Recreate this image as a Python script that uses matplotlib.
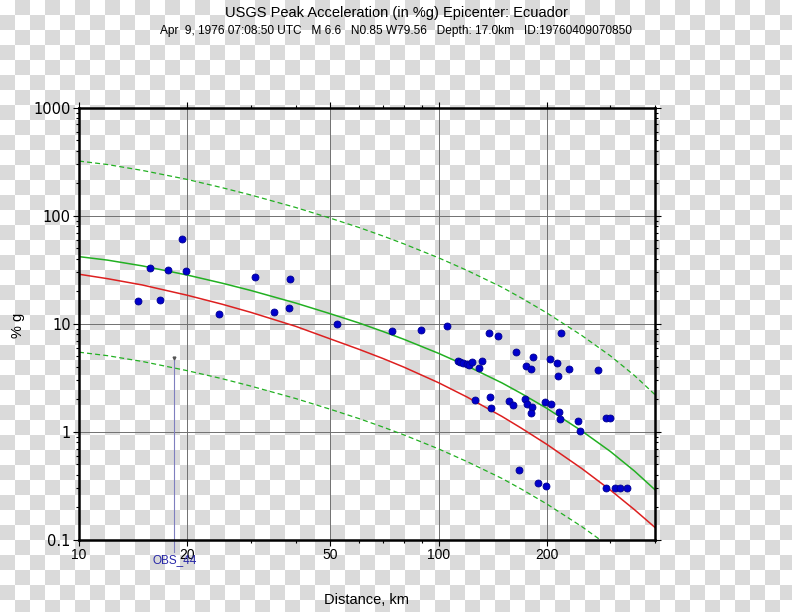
import numpy as np
import matplotlib
matplotlib.use("Agg")
import matplotlib.pyplot as plt
from matplotlib.ticker import FixedLocator, FixedFormatter, NullFormatter

plt.rcParams['font.family'] = ['Liberation Sans', 'DejaVu Sans']

# -----------------------------
# Data
# -----------------------------
title = 'USGS Peak Acceleration (in %g) Epicenter: Ecuador'
subtitle = 'Apr  9, 1976 07:08:50 UTC   M 6.6   N0.85 W79.56   Depth: 17.0km   ID:19760409070850'

# observed stations (distance km, peak acceleration %g)
obs_dist = [14.6, 15.8, 16.8, 17.7, 19.4, 19.8, 24.5, 30.9, 34.8, 38.3, 38.7, 52.3,
            74.0, 89.3, 105.2, 138.2, 146.4, 163.7, 218.3,
            112.9, 114.8, 117.1, 119.6, 121.4, 124.0, 129.2, 131.7,
            174.9, 180.6, 182.9, 204.3, 212.8, 214.2, 230.7, 277.8,
            126.2, 139.1, 139.8, 157.1, 161.2, 173.4, 175.6, 181.4, 180.6,
            197.1, 205.6, 215.6, 217.0, 243.5, 246.6,
            166.9, 189.2, 198.4, 291.3, 299.4, 291.3, 309.0, 319.2, 333.2]
obs_pga = [16.3, 33.1, 16.7, 31.3, 61.0, 31.0, 12.4, 27.3, 12.8, 14.1, 26.0, 9.9,
           8.65, 8.73, 9.6, 8.2, 7.7, 5.5, 8.2,
           4.54, 4.44, 4.32, 4.23, 4.14, 4.41, 3.88, 4.51,
           4.05, 3.83, 4.91, 4.74, 4.38, 3.32, 3.83, 3.75,
           1.99, 2.09, 1.68, 1.95, 1.78, 2.03, 1.83, 1.69, 1.50,
           1.88, 1.83, 1.53, 1.31, 1.27, 1.02,
           0.445, 0.34, 0.318, 1.34, 1.34, 0.301, 0.301, 0.301, 0.301]

# regression curves
curve_dist = [10, 12, 15, 20, 25, 30, 40, 50, 60, 70, 80, 100,
              120, 150, 170, 200, 250, 300, 350, 400]
median_pga = [41.9, 38.9, 34.4, 28.3, 23.8, 20.4, 15.6, 12.4, 10.2, 8.5, 7.2, 5.33,
              4.07, 2.84, 2.26, 1.65, 1.02, 0.66, 0.435, 0.29]
upper_pga = [321, 298, 263, 217, 182, 156, 119.5, 95, 78, 65, 55, 40.8,
             31.2, 21.8, 17.3, 12.6, 7.8, 5.06, 3.33, 2.2]
lower_pga = [5.47, 5.08, 4.49, 3.69, 3.11, 2.66, 2.04, 1.62, 1.33, 1.11, 0.94, 0.696,
             0.531, 0.371, 0.295, 0.215, 0.133, 0.086, 0.057, 0.038]
red_pga = [28.8, 26.2, 22.9, 18.4, 15.2, 12.8, 9.5, 7.25, 5.82, 4.78, 3.98, 2.85,
           2.10, 1.39, 1.08, 0.766, 0.458, 0.290, 0.191, 0.130]

# flagged station
flag_name = 'OBS_44'
flag_dist = 18.4
flag_pga = 4.8

x_major = [10, 20, 50, 100, 200]
x_minor = [30, 40, 60, 70, 80, 90, 300, 400]
y_major = [0.1, 1, 10, 100, 1000]

# -----------------------------
# Figure
# -----------------------------
fig = plt.figure(figsize=(7.92, 6.12), dpi=100)

# checkerboard background
h, w = 612, 792
yy, xx = np.indices((h, w))
board = np.where(((yy // 15) + (xx // 15)) % 2 == 1, 0.855, 1.0)
fig.figimage(board, xo=0, yo=0, origin='upper', cmap='gray', vmin=0, vmax=1, zorder=-10)

ax = fig.add_axes([0.0997, 0.1176, 0.7277, 0.7064])
ax.patch.set_alpha(0)
ax.set_xscale('log')
ax.set_yscale('log')
ax.set_xlim(10, 400)
ax.set_ylim(0.1, 1000)

ax.grid(True, which='major', color='#707070', lw=0.7)
ax.set_axisbelow(True)

ax.plot(curve_dist, upper_pga, color='#22b022', lw=0.9, dashes=(4, 2.5))
ax.plot(curve_dist, lower_pga, color='#22b022', lw=0.9, dashes=(4, 2.5))
ax.plot(curve_dist, median_pga, color='#22b022', lw=1.1)
ax.plot(curve_dist, red_pga, color='#dd2020', lw=1.1)

ax.plot(obs_dist, obs_pga, 'o', color='#0000cc', mec='#000090', mew=0.6, ms=5, zorder=5)

# flagged station line + label
ax.plot([flag_dist, flag_dist], [0.077, flag_pga], color='#7f7fbf', lw=0.8, clip_on=False)
ax.plot([flag_dist], [flag_pga], marker='v', color='#555555', ms=2, clip_on=False)
ax.text(flag_dist, 0.0655, flag_name, ha='center', va='center', color='#2828a8',
        fontsize=8.5, clip_on=False)

ax.xaxis.set_major_locator(FixedLocator(x_major))
ax.xaxis.set_major_formatter(FixedFormatter([str(v) for v in x_major]))
ax.xaxis.set_minor_locator(FixedLocator(x_minor))
ax.xaxis.set_minor_formatter(NullFormatter())
ax.yaxis.set_major_locator(FixedLocator(y_major))
ax.yaxis.set_major_formatter(FixedFormatter(['0.1', '1', '10', '100', '1000']))
ax.yaxis.set_minor_locator(matplotlib.ticker.LogLocator(subs=np.arange(2, 10)))
ax.yaxis.set_minor_formatter(NullFormatter())

ax.tick_params(which='both', direction='out', top=True, right=True, width=0.8, colors='black')
ax.tick_params(which='major', length=4)
ax.tick_params(which='minor', length=2.5)
ax.tick_params(axis='x', labelsize=10, pad=2)
for lab in ax.get_yticklabels():
    lab.set_family('DejaVu Sans')
    lab.set_fontsize(10.5)
ax.tick_params(axis='y', pad=2)
for sp in ax.spines.values():
    sp.set_linewidth(1.8)

fig.text(0.5, 1 - 13 / 612, title, ha='center', va='center', fontsize=10.5)
fig.text(0.5, 1 - 31 / 612, subtitle, ha='center', va='center', fontsize=8.6)
fig.text(366 / 792, 1 - 600 / 612, 'Distance, km', ha='center', va='center', fontsize=10.5)
fig.text(18 / 792, 1 - 325 / 612, '% g', ha='center', va='center', rotation=90, fontsize=10.5)

fig.savefig('out.png', dpi=100)
